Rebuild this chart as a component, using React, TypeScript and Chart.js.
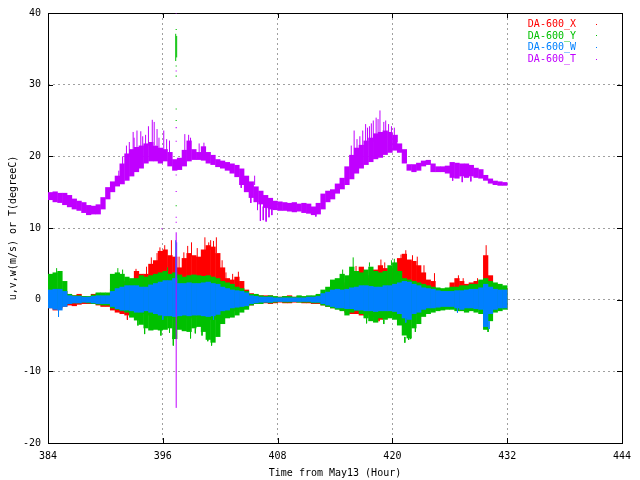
import { useEffect, useRef } from 'react'
import { Chart, registerables } from 'chart.js'

Chart.register(...registerables)

// 0.5 hour bins from 384 to 432, each bin is [low, high] of the samples in it
const BIN_START = 384
const BIN_HOURS = 0.5

const T_LO = [
  13.9, 13.6, 13.5, 13.2, 12.9, 12.6, 12.4, 12.1, 11.8, 11.9,
  11.9, 12.6, 14.0, 15.0, 15.8, 16.1, 16.6, 17.2, 17.8, 18.3,
  19.0, 19.3, 19.3, 19.0, 19.3, 18.6, 18.0, 18.1, 18.6, 19.3,
  19.5, 19.5, 19.4, 19.0, 18.8, 18.5, 18.3, 18.0, 17.6, 17.1,
  16.0, 15.0, 14.2, 13.6, 13.3, 12.8, 12.6, 12.5, 12.4, 12.4,
  12.3, 12.2, 12.3, 12.1, 12.0, 11.8, 11.9, 12.6, 13.6, 14.0,
  14.8, 15.4, 16.0, 16.8, 17.6, 18.3, 18.8, 19.2, 19.6, 19.8,
  20.2, 20.5, 20.8, 20.5, 19.0, 18.0, 17.8, 18.0, 18.6, 18.8,
  17.8, 17.8, 17.8, 17.6, 17.0, 16.9, 17.2, 17.0, 17.2, 17.0,
  16.9, 16.6, 16.2, 16.0, 15.9, 15.9,
]
const T_HI = [
  15.0, 15.1, 14.9, 14.9, 14.6, 14.1, 13.8, 13.6, 13.2, 13.1,
  13.3, 14.3, 15.7, 16.5, 17.3, 19.0, 20.4, 21.0, 21.3, 21.5,
  21.8, 22.0, 21.5, 21.2, 21.0, 20.6, 19.6, 19.8, 20.9, 22.2,
  21.0, 20.6, 21.4, 20.6, 20.2, 19.6, 19.4, 19.2, 19.0, 18.8,
  18.3, 17.3, 16.5, 15.8, 15.2, 14.6, 14.2, 13.8, 13.7, 13.6,
  13.5, 13.6, 13.4, 13.5, 13.4, 13.0, 13.5, 14.8, 15.2, 15.4,
  16.2, 17.0, 18.6, 20.2, 21.2, 21.6, 22.2, 22.6, 23.2, 23.4,
  23.6, 23.4, 23.0, 21.8, 21.0, 18.9, 18.9, 19.1, 19.4, 19.5,
  19.0, 18.6, 18.6, 18.7, 19.2, 19.1, 19.0, 19.0, 18.8, 18.4,
  18.2, 17.4, 16.9, 16.6, 16.5, 16.4,
]

const X_LO = [
  -1.2, -1.5, -1.2, -1.0, -0.8, -0.9, -0.7, -0.6, -0.6, -0.6,
  -0.8, -1.0, -1.0, -1.5, -1.8, -2.0, -2.2, -2.0, -1.8, -2.0,
  -2.0, -2.2, -2.2, -2.4, -2.4, -2.5, -2.6, -2.4, -2.5, -2.6,
  -2.4, -2.4, -2.6, -2.8, -2.8, -2.6, -2.0, -1.8, -1.6, -1.4,
  -1.2, -1.0, -0.8, -0.6, -0.5, -0.5, -0.6, -0.5, -0.4, -0.5,
  -0.5, -0.4, -0.4, -0.5, -0.5, -0.6, -0.6, -0.8, -1.0, -1.2,
  -1.2, -1.5, -1.8, -2.0, -2.0, -2.2, -2.2, -2.0, -2.4, -2.8,
  -2.6, -2.2, -2.2, -2.6, -2.8, -2.5, -2.2, -2.0, -1.6, -1.4,
  -1.4, -1.2, -1.2, -1.0, -1.0, -1.2, -1.2, -1.2, -1.2, -1.3,
  -1.4, -2.2, -1.8, -1.4, -1.2, -1.2,
]
const X_HI = [
  1.8, 1.6, 1.5, 1.2, 0.7, 0.6, 0.8, 0.5, 0.4, 0.8,
  0.9, 0.8, 0.7, 1.5, 2.0, 2.6, 2.4, 2.6, 4.0, 3.6,
  3.6, 5.0, 5.5, 6.8, 7.0, 6.2, 6.0, 4.5, 5.8, 6.5,
  6.2, 6.0, 7.0, 7.6, 7.4, 6.5, 4.5, 3.0, 2.8, 3.2,
  2.6, 1.4, 0.9, 0.7, 0.6, 0.6, 0.6, 0.4, 0.4, 0.5,
  0.6, 0.4, 0.5, 0.4, 0.5, 0.5, 0.6, 0.8, 1.0, 1.4,
  1.6, 2.0, 2.4, 3.6, 3.8, 4.6, 3.0, 3.4, 4.2, 4.8,
  4.4, 3.8, 4.4, 5.8, 6.4, 5.6, 5.4, 4.8, 3.8, 2.8,
  2.6, 1.6, 1.5, 1.5, 2.4, 3.0, 2.6, 2.2, 2.4, 2.6,
  2.0, 6.2, 3.4, 2.2, 1.8, 1.6,
]

const Y_LO = [
  -1.0, -1.2, -1.0, -0.8, -0.6, -0.5, -0.5, -0.4, -0.5, -0.6,
  -0.7, -0.8, -0.8, -1.2, -1.4, -1.6, -1.8, -2.5, -2.9, -3.5,
  -4.0, -4.3, -4.2, -4.3, -4.2, -4.0, -5.5, -4.2, -4.4, -4.5,
  -4.0, -3.8, -4.5, -5.6, -6.0, -5.2, -3.4, -2.6, -2.5, -2.2,
  -1.8, -1.4, -0.8, -0.6, -0.6, -0.4, -0.5, -0.4, -0.3, -0.4,
  -0.4, -0.3, -0.4, -0.4, -0.4, -0.5, -0.5, -0.8, -1.0, -1.2,
  -1.4, -1.6, -2.2, -1.8, -1.6, -2.0, -2.6, -3.0, -3.2, -2.6,
  -2.8, -2.6, -2.8, -3.6, -5.0, -5.4, -4.0, -3.4, -2.4, -2.0,
  -1.8, -1.6, -1.5, -1.4, -1.4, -1.6, -1.6, -1.8, -1.6, -1.8,
  -2.0, -4.2, -3.0, -1.8, -1.6, -1.4,
]
const Y_HI = [
  3.6, 3.8, 4.0, 2.6, 0.8, 0.6, 0.6, 0.5, 0.5, 0.7,
  1.0, 1.0, 1.0, 3.6, 3.8, 3.6, 3.2, 3.0, 3.0, 3.4,
  3.2, 3.4, 3.6, 3.8, 4.0, 3.6, 3.8, 3.5, 3.2, 3.4,
  3.5, 3.4, 3.3, 3.4, 3.2, 3.0, 2.6, 2.4, 2.2, 1.8,
  1.6, 1.2, 0.8, 0.8, 0.6, 0.5, 0.6, 0.5, 0.4, 0.5,
  0.5, 0.4, 0.6, 0.5, 0.6, 0.6, 0.8, 1.4, 1.8, 2.8,
  3.0, 3.6, 3.4, 4.6, 4.0, 3.8, 4.2, 4.6, 4.0, 3.8,
  4.0, 4.8, 5.2, 4.0, 3.0, 2.8, 2.6, 2.4, 2.2, 2.0,
  1.8, 1.7, 1.6, 1.7, 1.8, 1.8, 2.0, 2.0, 2.2, 2.2,
  2.8, 3.0, 2.6, 2.4, 2.2, 2.0,
]

const W_LO = [
  -1.2, -1.4, -1.5, -1.0, -0.6, -0.5, -0.5, -0.4, -0.4, -0.5,
  -0.6, -0.6, -0.6, -1.0, -1.3, -1.5, -1.5, -1.6, -1.8, -1.8,
  -1.6, -1.8, -2.0, -2.2, -2.3, -2.3, -2.4, -2.3, -2.2, -2.3,
  -2.2, -2.2, -2.3, -2.4, -2.3, -2.1, -1.6, -1.5, -1.2, -1.1,
  -1.0, -0.9, -0.6, -0.5, -0.4, -0.4, -0.4, -0.3, -0.3, -0.3,
  -0.3, -0.3, -0.3, -0.3, -0.3, -0.4, -0.4, -0.6, -0.8, -1.0,
  -1.2, -1.2, -1.3, -1.3, -1.5, -1.5, -1.6, -1.6, -1.7, -1.6,
  -1.6, -1.6, -1.7, -2.0, -2.6, -2.8, -2.0, -1.8, -1.4, -1.2,
  -1.2, -1.1, -1.0, -1.0, -1.0, -1.2, -1.4, -1.2, -1.2, -1.3,
  -1.4, -3.8, -2.0, -1.4, -1.2, -1.2,
]
const W_HI = [
  1.4, 1.5, 1.5, 1.2, 0.6, 0.5, 0.5, 0.4, 0.4, 0.5,
  0.6, 0.6, 0.6, 1.2, 1.6, 1.8, 2.0, 2.0, 2.0, 1.8,
  1.8, 2.1, 2.3, 2.5, 2.7, 2.7, 3.0, 2.3, 2.3, 2.4,
  2.3, 2.3, 2.4, 2.5, 2.3, 2.2, 1.8, 1.6, 1.4, 1.3,
  1.2, 1.0, 0.6, 0.5, 0.4, 0.4, 0.4, 0.3, 0.3, 0.3,
  0.3, 0.3, 0.3, 0.3, 0.4, 0.4, 0.5, 0.9, 1.1, 1.4,
  1.5, 1.4, 1.5, 1.7, 1.8, 2.0, 2.0, 1.9, 1.8, 1.8,
  2.0, 2.0, 2.2, 2.4, 2.6, 2.5, 2.2, 2.0, 1.7, 1.6,
  1.5, 1.3, 1.2, 1.2, 1.2, 1.3, 1.3, 1.4, 1.5, 1.5,
  1.7, 2.2, 1.8, 1.5, 1.4, 1.4,
]

// single spikes that stick out of the bands: hour, from, to
const T_SPK_H = [
  391.4, 391.8, 392.2, 392.5, 392.9, 393.0, 393.3, 393.7, 393.9, 394.2, 394.5, 394.9, 395.1, 395.4, 395.6,
  396.1, 396.4, 396.7, 397.4, 398.3, 398.7, 398.9, 399.8, 400.3, 404.2, 405.2, 405.6, 405.9, 406.2, 406.5,
  406.8, 407.1, 407.4, 412.0, 415.7, 416.0, 416.3, 416.6, 416.9, 417.2, 417.4, 417.6, 417.8, 418.0, 418.3,
  418.5, 418.7, 419.1, 419.3, 419.6, 419.9, 420.2, 420.5, 426.3, 427.3, 428.2,
]
const T_SPK_FROM = [
  16.5, 18.5, 20.0, 20.0, 20.5, 20.5, 21.0, 21.2, 21.0, 21.5, 21.5, 21.8, 21.5, 21.5, 21.0,
  20.8, 20.8, 20.5, -15.1, 20.5, 21.5, 21.5, 20.5, 21.0, 16.5, 14.5, 16.0, 13.8, 13.5, 13.0,
  13.0, 12.8, 12.8, 12.2, 19.0, 19.5, 20.5, 20.5, 21.5, 21.0, 22.0, 21.5, 22.5, 22.0, 22.5,
  23.0, 22.5, 23.2, 23.0, 23.0, 23.0, 22.8, 22.0, 17.2, 17.2, 17.2,
]
const T_SPK_TO = [
  18.0, 20.0, 21.5, 22.0, 23.4, 22.6, 23.6, 23.5, 22.8, 23.0, 24.2, 25.1, 24.8, 23.8, 22.6,
  23.6, 22.4, 22.2, 9.4, 23.1, 23.0, 22.6, 21.8, 21.9, 15.6, 13.5, 17.3, 12.5, 11.0, 11.1,
  10.9, 11.5, 11.8, 11.6, 21.5, 23.6, 22.4, 22.8, 23.6, 24.5, 24.0, 24.2, 24.6, 25.0, 25.4,
  25.2, 26.4, 24.8, 25.0, 24.5, 24.2, 24.0, 23.0, 16.6, 16.4, 16.5,
]

const X_SPK_H = [
  392.3, 393.2, 393.8, 394.3, 394.8, 395.4, 395.7, 396.2, 396.9, 397.7, 398.2, 398.6, 399.0, 399.6, 400.4,
  400.8, 401.0, 401.3, 401.6, 402.2, 402.6, 403.3, 403.9, 416.2, 417.0, 418.6, 418.8, 419.2, 420.9, 421.4,
  422.1, 422.6, 423.3, 424.4, 426.9, 427.4, 428.9, 429.8,
]
const X_SPK_FROM = [
  -2.2, 3.0, -2.0, 3.5, 4.5, 5.0, 6.5, 6.0, 6.0, 4.0, 5.5, 5.5, 6.0, 5.5, 6.5,
  7.0, 7.0, 7.0, 6.5, 4.0, 2.8, 2.6, 2.8, 3.5, 3.0, -2.6, 4.5, 4.2, 5.5, 5.8,
  5.2, 4.5, 3.5, 2.5, 2.8, 2.4, 2.4, 6.0,
]
const X_SPK_TO = [
  -2.8, 4.3, -2.6, 4.6, 5.9, 6.5, 7.3, 7.6, 8.3, 6.0, 6.6, 7.5, 8.0, 7.2, 8.7,
  8.0, 8.3, 8.2, 8.7, 5.5, 3.8, 3.6, 3.9, 4.7, 4.2, -3.0, 5.6, 5.2, 6.3, 6.9,
  6.2, 6.0, 4.8, 3.7, 3.4, 3.0, 3.0, 7.6,
]

const Y_SPK_H = [
  384.9, 391.3, 391.8, 393.4, 394.1, 395.8, 396.5, 396.7, 397.1, 397.35, 397.45, 398.9, 399.4, 400.1, 400.7,
  401.1, 414.8, 415.9, 417.3, 417.6, 419.1, 419.9, 420.2, 421.3, 421.7, 421.9, 422.4, 430.0,
]
const Y_SPK_FROM = [
  3.5, 3.5, 3.5, -2.8, -4.0, -4.0, 3.6, -4.0, -5.0, 33.3, 33.8, -4.3, -4.0, -4.0, -5.0,
  -5.5, 3.5, 4.5, -2.5, 4.6, -2.8, 4.8, 5.0, -5.2, -5.0, -5.0, -3.8, -4.0,
]
const Y_SPK_TO = [
  4.4, 4.4, 4.2, -3.6, -4.8, -5.0, 4.5, -4.6, -6.4, 37.1, 36.8, -5.4, -4.7, -5.0, -5.8,
  -6.4, 4.2, 5.9, -3.3, 5.2, -3.4, 5.5, 5.7, -6.0, -5.6, -5.5, -4.5, -4.5,
]

const W_SPK_H = [385.1, 396.0, 397.35, 397.45, 401.3, 421.4, 426.8, 430.1]
const W_SPK_FROM = [-1.5, -2.2, 2.5, 2.5, -2.2, -2.6, -1.2, -3.0]
const W_SPK_TO = [-2.4, -2.8, 8.3, 8.0, -2.8, -3.2, -1.8, -4.1]

// loose single samples
const T_DOT_H = [397.4, 397.4, 397.4, 397.4, 397.4, 397.4, 397.4, 397.4, 395.9]
const T_DOT_V = [40.0, 31.9, 24.0, 22.1, 17.4, 15.1, 11.5, 10.8, 9.9]
const Y_DOT_H = [397.4, 397.4, 397.4, 397.4, 397.4, 397.4]
const Y_DOT_V = [37.7, 32.6, 31.2, 26.6, 25.0, 13.1]

const X_TICKS = { min: 384, max: 444, step: 12 }
const Y_TICKS = { min: -20, max: 40, step: 10 }

const RED = '#ff0000'
const GREEN = '#00c000'
const BLUE = '#0080ff'
const PURPLE = '#c000ff'

const FONT = '"DejaVu Sans Mono", monospace'

function bins(lo: number[], hi: number[]) {
  return lo.map((v, i) => ({ x: BIN_START + BIN_HOURS * (i + 0.5), y: [v, hi[i]] }))
}

function spikes(h: number[], from: number[], to: number[]) {
  return h.flatMap((x, i) => [
    { x, y: from[i] },
    { x, y: to[i] },
    { x, y: null },
  ])
}

function dots(h: number[], v: number[]) {
  return h.map((x, i) => ({ x, y: v[i] }))
}

function bandSet(label: string, color: string, order: number, lo: number[], hi: number[]) {
  return {
    type: 'bar' as const,
    label,
    data: bins(lo, hi) as any,
    backgroundColor: color,
    borderWidth: 0,
    barPercentage: 1.1,
    categoryPercentage: 1,
    grouped: false,
    order,
  }
}

function spikeSet(color: string, order: number, h: number[], from: number[], to: number[]) {
  return {
    type: 'line' as const,
    label: '',
    data: spikes(h, from, to) as any,
    borderColor: color,
    borderWidth: 1,
    pointRadius: 0,
    spanGaps: false,
    fill: false,
    order,
  }
}

function dotSet(color: string, order: number, h: number[], v: number[]) {
  return {
    type: 'scatter' as const,
    label: '',
    data: dots(h, v) as any,
    backgroundColor: color,
    borderWidth: 0,
    pointStyle: 'rect' as const,
    pointRadius: 0.8,
    order,
  }
}

// gnuplot style frame with inward tic marks on all four sides
const framePlugin = {
  id: 'frame',
  beforeDatasetsDraw(chart: Chart) {
    const { ctx, chartArea, scales } = chart
    const { left, right, top, bottom } = chartArea
    const tic = 5
    ctx.save()
    ctx.strokeStyle = '#000'
    ctx.lineWidth = 1
    ctx.beginPath()
    for (const t of scales.x.ticks) {
      const px = Math.round(scales.x.getPixelForValue(t.value)) + 0.5
      ctx.moveTo(px, bottom)
      ctx.lineTo(px, bottom - tic)
      ctx.moveTo(px, top)
      ctx.lineTo(px, top + tic)
    }
    for (const t of scales.y.ticks) {
      const py = Math.round(scales.y.getPixelForValue(t.value)) + 0.5
      ctx.moveTo(left, py)
      ctx.lineTo(left + tic, py)
      ctx.moveTo(right, py)
      ctx.lineTo(right - tic, py)
    }
    ctx.stroke()
    ctx.strokeRect(Math.round(left) + 0.5, Math.round(top) + 0.5, Math.round(right - left), Math.round(bottom - top))
    ctx.restore()
  },
}

// key in the upper right corner, text right aligned with a sample dot after it
const keyPlugin = {
  id: 'key',
  afterDraw(chart: Chart) {
    const { ctx, chartArea } = chart
    const items = chart.data.datasets.filter((d) => d.label)
    ctx.save()
    ctx.font = `10px ${FONT}`
    ctx.textAlign = 'right'
    ctx.textBaseline = 'middle'
    items.forEach((d, i) => {
      const y = chartArea.top + 11.5 + i * 11.7
      const color = d.backgroundColor as string
      ctx.fillStyle = color
      ctx.fillText(d.label as string, chartArea.right - 46, y)
      ctx.fillRect(chartArea.right - 26, Math.round(y) - 1, 1, 1)
    })
    ctx.restore()
  },
}

function WindChart() {
  const canvasRef = useRef<HTMLCanvasElement>(null)
  const chartRef = useRef<Chart | null>(null)

  useEffect(() => {
    if (!canvasRef.current) return
    if (chartRef.current) chartRef.current.destroy()

    const tickFont = { family: FONT, size: 10 }

    chartRef.current = new Chart(canvasRef.current, {
      type: 'bar',
      data: {
        datasets: [
          bandSet('DA-600_X', RED, 40, X_LO, X_HI),
          bandSet('DA-600_Y', GREEN, 30, Y_LO, Y_HI),
          bandSet('DA-600_W', BLUE, 20, W_LO, W_HI),
          bandSet('DA-600_T', PURPLE, 10, T_LO, T_HI),
          spikeSet(RED, 39, X_SPK_H, X_SPK_FROM, X_SPK_TO),
          spikeSet(GREEN, 29, Y_SPK_H, Y_SPK_FROM, Y_SPK_TO),
          dotSet(GREEN, 28, Y_DOT_H, Y_DOT_V),
          spikeSet(BLUE, 19, W_SPK_H, W_SPK_FROM, W_SPK_TO),
          spikeSet(PURPLE, 9, T_SPK_H, T_SPK_FROM, T_SPK_TO),
          dotSet(PURPLE, 8, T_DOT_H, T_DOT_V),
        ] as any,
      },
      options: {
        responsive: false,
        animation: false,
        events: [],
        layout: { padding: { left: 0, top: 11, right: 18, bottom: 0 } },
        scales: {
          x: {
            type: 'linear',
            min: X_TICKS.min,
            max: X_TICKS.max,
            offset: false,
            afterFit: (scale) => {
              scale.height = 37
            },
            ticks: { stepSize: X_TICKS.step, color: '#000', font: tickFont, padding: 7, maxRotation: 0 },
            grid: { color: '#a0a0a0', lineWidth: 1, drawTicks: false, offset: false },
            border: { display: false, dash: [2, 3] },
            title: {
              display: true,
              text: 'Time from May13 (Hour)',
              color: '#000',
              font: tickFont,
              padding: { top: 0, bottom: 1 },
            },
          },
          y: {
            type: 'linear',
            min: Y_TICKS.min,
            max: Y_TICKS.max,
            afterFit: (scale) => {
              scale.width = 48
            },
            ticks: { stepSize: Y_TICKS.step, color: '#000', font: tickFont, padding: 7 },
            grid: { color: '#a0a0a0', lineWidth: 1, drawTicks: false },
            border: { display: false, dash: [2, 3] },
            title: {
              display: true,
              text: 'u,v,w(m/s) or T(degreeC)',
              color: '#000',
              font: tickFont,
              padding: { top: 7.5, bottom: 0 },
            },
          },
        },
        plugins: {
          legend: { display: false },
          tooltip: { enabled: false },
        },
      },
      plugins: [framePlugin, keyPlugin],
    })

    return () => {
      if (chartRef.current) {
        chartRef.current.destroy()
        chartRef.current = null
      }
    }
  }, [])

  return <canvas ref={canvasRef} width={640} height={480} style={{ width: 640, height: 480, display: 'block' }} />
}

export default function App() {
  return (
    <div style={{ position: 'fixed', left: 0, top: 0, width: 640, height: 480, background: '#fff' }}>
      <WindChart />
    </div>
  )
}
